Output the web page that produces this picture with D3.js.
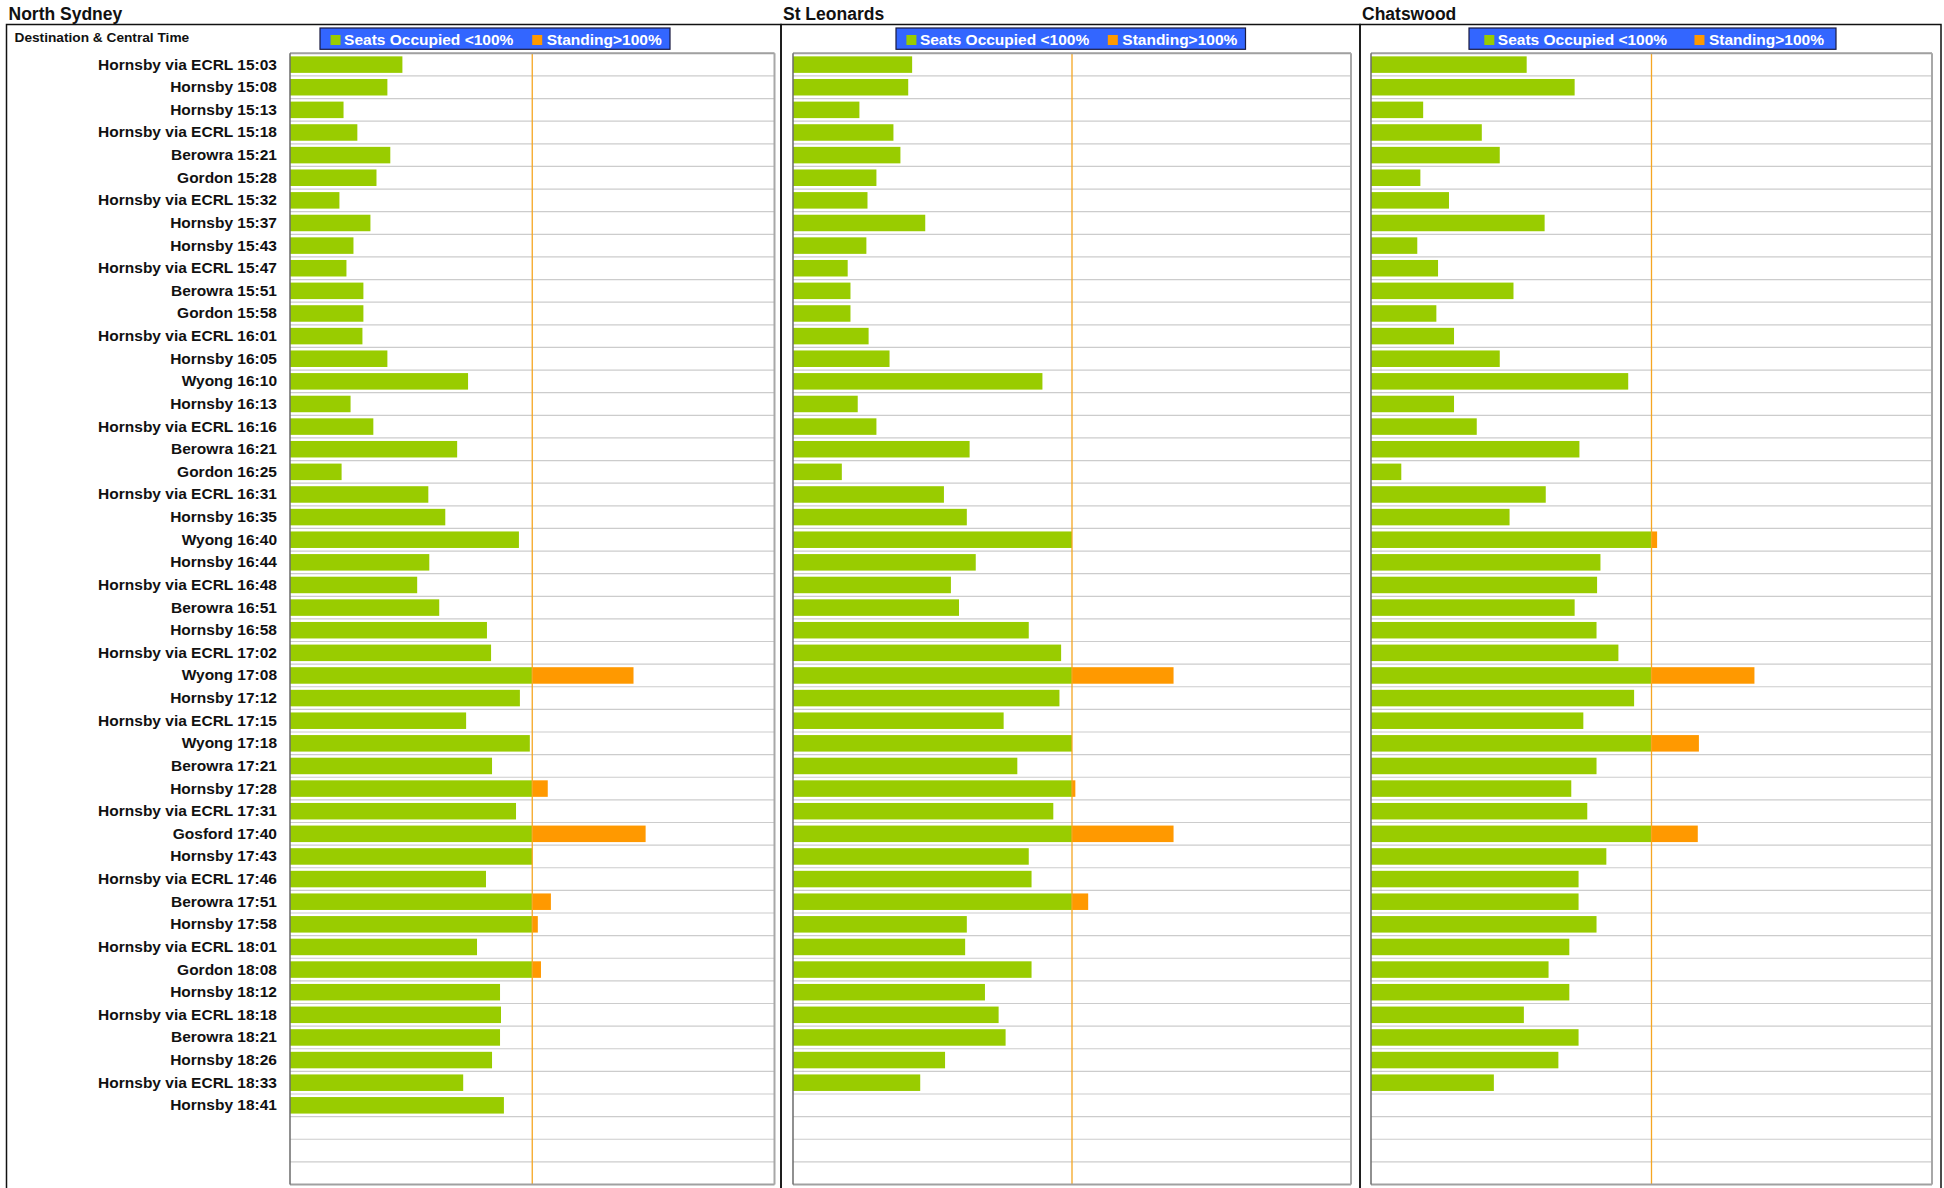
<!DOCTYPE html>
<html>
<head>
<meta charset="utf-8">
<script src="https://cdn.jsdelivr.net/npm/d3@7"></script>
<style>
  body { margin: 0; background: #fff; }
  text { font-family: "Liberation Sans", Arial, Helvetica, sans-serif; }
</style>
</head>
<body>
<div id="chart"></div>
<script>
// trips, in departure order (Central time)
const trips = [
  "Hornsby via ECRL 15:03", "Hornsby 15:08", "Hornsby 15:13", "Hornsby via ECRL 15:18",
  "Berowra 15:21", "Gordon 15:28", "Hornsby via ECRL 15:32", "Hornsby 15:37",
  "Hornsby 15:43", "Hornsby via ECRL 15:47", "Berowra 15:51", "Gordon 15:58",
  "Hornsby via ECRL 16:01", "Hornsby 16:05", "Wyong 16:10", "Hornsby 16:13",
  "Hornsby via ECRL 16:16", "Berowra 16:21", "Gordon 16:25", "Hornsby via ECRL 16:31",
  "Hornsby 16:35", "Wyong 16:40", "Hornsby 16:44", "Hornsby via ECRL 16:48",
  "Berowra 16:51", "Hornsby 16:58", "Hornsby via ECRL 17:02", "Wyong 17:08",
  "Hornsby 17:12", "Hornsby via ECRL 17:15", "Wyong 17:18", "Berowra 17:21",
  "Hornsby 17:28", "Hornsby via ECRL 17:31", "Gosford 17:40", "Hornsby 17:43",
  "Hornsby via ECRL 17:46", "Berowra 17:51", "Hornsby 17:58", "Hornsby via ECRL 18:01",
  "Gordon 18:08", "Hornsby 18:12", "Hornsby via ECRL 18:18", "Berowra 18:21",
  "Hornsby 18:26", "Hornsby via ECRL 18:33", "Hornsby 18:41"
];

const stations = ["North Sydney", "St Leonards", "Chatswood"];

// load in % of seats, per trip
const northSydney = [
  46.4, 40.2, 22.1, 27.8, 41.4, 35.7, 20.4, 33.2, 26.2, 23.3,
  30.3, 30.3, 29.9, 40.2, 73.5, 25.0, 34.4, 69.0, 21.3, 57.1,
  64.1, 94.5, 57.5, 52.5, 61.6, 81.3, 83.0, 141.8, 94.9, 72.7,
  99.0, 83.4, 106.4, 93.3, 146.8, 100.0, 80.9, 107.7, 102.3, 77.2,
  103.6, 86.7, 87.1, 86.7, 83.4, 71.5, 88.3
];
const stLeonards = [
  42.7, 41.3, 23.8, 36.0, 38.5, 29.9, 26.7, 47.4, 26.3, 19.6,
  20.6, 20.6, 27.1, 34.6, 89.4, 23.2, 29.9, 63.3, 17.5, 54.1,
  62.3, 100.0, 65.5, 56.6, 59.5, 84.5, 96.1, 136.4, 95.5, 75.5,
  100.0, 80.4, 101.2, 93.3, 136.4, 84.5, 85.5, 105.8, 62.3, 61.7,
  85.5, 68.8, 73.7, 76.2, 54.5, 45.6
];
const chatswood = [
  55.5, 72.6, 18.6, 39.5, 45.9, 17.6, 27.8, 61.9, 16.5, 23.9,
  50.8, 23.3, 29.6, 45.9, 91.7, 29.6, 37.7, 74.3, 10.8, 62.3,
  49.4, 102.0, 81.8, 80.6, 72.6, 80.4, 88.2, 136.7, 93.8, 75.7,
  116.9, 80.4, 71.4, 77.1, 116.5, 83.9, 74.0, 74.0, 80.4, 70.7,
  63.3, 70.7, 54.5, 74.0, 66.8, 43.8
];

const legendKeys = ["Seats Occupied <100%", "Standing>100%"];
const xDomain = [0, 200];
const capacity = 100;
const rowCount = 50;

const series = [northSydney, stLeonards, chatswood];

const width = 1944, height = 1188;
const plotTop = 53.3, plotBottom = 1184.5;
const green = "#99cc00", orange = "#ff9900";

// per panel: outer box, plot area, legend box (x extents)
const layout = [
  {box: [6.5, 781], plot: [290, 774.5], legend: [320, 670]},
  {box: [781, 1360], plot: [793, 1351], legend: [896, 1245.5]},
  {box: [1360, 1941], plot: [1371, 1932], legend: [1469, 1836]}
];

const svg = d3.select("#chart")
  .append("svg")
    .attr("width", width)
    .attr("height", height);

const y = d3.scaleBand()
  .domain(d3.range(rowCount))
  .range([plotTop, plotBottom])
  .paddingInner(0.27)
  .paddingOuter(0.135);

stations.forEach((station, p) => {
  const L = layout[p];
  const g = svg.append("g");

  g.append("rect")
    .attr("x", L.box[0])
    .attr("y", 24.5)
    .attr("width", L.box[1] - L.box[0])
    .attr("height", height)
    .attr("fill", "none")
    .attr("stroke", "#111")
    .attr("stroke-width", 1.5);

  g.append("text")
    .attr("x", L.box[0] + 2)
    .attr("y", 20)
    .text(station)
    .style("font-weight", "bold")
    .style("font-size", "17.5px")
    .style("fill", "#111");

  const x = d3.scaleLinear().domain(xDomain).range(L.plot);

  // row separators
  g.selectAll(".grid")
    .data(d3.range(rowCount + 1))
    .join("line")
      .attr("x1", L.plot[0])
      .attr("x2", L.plot[1])
      .attr("y1", i => plotTop + i * y.step())
      .attr("y2", i => plotTop + i * y.step())
      .attr("stroke", "#cccccc")
      .attr("stroke-width", 1.2);

  const rows = series[p].map((v, i) => ({
    i: i,
    seats: Math.min(v, capacity),
    standing: Math.max(v - capacity, 0)
  }));

  g.selectAll(".seat")
    .data(rows)
    .join("rect")
      .attr("x", x(0))
      .attr("y", d => y(d.i))
      .attr("width", d => x(d.seats) - x(0))
      .attr("height", y.bandwidth())
      .attr("fill", green);

  g.selectAll(".stand")
    .data(rows.filter(d => d.standing > 0))
    .join("rect")
      .attr("x", x(capacity))
      .attr("y", d => y(d.i))
      .attr("width", d => x(capacity + d.standing) - x(capacity))
      .attr("height", y.bandwidth())
      .attr("fill", orange);

  // 100% line
  g.append("line")
    .attr("x1", x(capacity)).attr("x2", x(capacity))
    .attr("y1", plotTop).attr("y2", plotBottom)
    .attr("stroke", "#f5a623")
    .attr("stroke-width", 1.3);

  // plot frame
  g.append("line")
    .attr("x1", L.plot[0]).attr("x2", L.plot[1])
    .attr("y1", plotTop).attr("y2", plotTop)
    .attr("stroke", "#a0a0a0").attr("stroke-width", 2);
  g.append("line")
    .attr("x1", L.plot[0]).attr("x2", L.plot[1])
    .attr("y1", plotBottom).attr("y2", plotBottom)
    .attr("stroke", "#a0a0a0").attr("stroke-width", 2);
  g.append("line")
    .attr("x1", L.plot[1]).attr("x2", L.plot[1])
    .attr("y1", plotTop).attr("y2", plotBottom)
    .attr("stroke", "#a8a8a8").attr("stroke-width", 2);
  g.append("line")
    .attr("x1", L.plot[0]).attr("x2", L.plot[0])
    .attr("y1", plotTop).attr("y2", plotBottom)
    .attr("stroke", "#6b6b6b").attr("stroke-width", 1.5);

  if (p === 0) {
    g.append("text")
      .attr("x", 14.5)
      .attr("y", 42)
      .text("Destination & Central Time")
      .style("font-weight", "bold")
      .style("font-size", "13.7px")
      .style("fill", "#111");

    const axis = g.append("g")
      .attr("transform", `translate(${L.plot[0]},0)`)
      .call(d3.axisLeft(y).tickSize(0).tickPadding(13).tickFormat(i => trips[i] || ""));
    axis.select(".domain").remove();
    axis.selectAll("text")
      .style("font-family", "'Liberation Sans', Arial, sans-serif")
      .style("font-weight", "bold")
      .style("font-size", "15.5px")
      .style("fill", "#111");
  }

  // legend
  const lg = g.append("g");
  const lx0 = L.legend[0], lx1 = L.legend[1];
  lg.append("rect")
    .attr("x", lx0).attr("y", 28)
    .attr("width", lx1 - lx0).attr("height", 21.3)
    .attr("fill", "#3366ff")
    .attr("stroke", "#1a1a40")
    .attr("stroke-width", 1.2);

  const texts = legendKeys.map(k => lg.append("text")
    .attr("y", 45.3)
    .text(k)
    .style("font-weight", "bold")
    .style("font-size", "15.5px")
    .style("fill", "#fff"));
  const tw = texts.map(t => t.node().getComputedTextLength());
  const sq = 10;
  const content = sq + 3.5 + tw[0] + sq + 4.5 + tw[1];
  const spare = (lx1 - lx0) - content;
  let cx = lx0 + spare * 0.28;
  [green, orange].forEach((c, k) => {
    lg.append("rect")
      .attr("x", cx).attr("y", 35)
      .attr("width", sq).attr("height", sq)
      .attr("fill", c);
    cx += sq + (k === 0 ? 3.5 : 4.5);
    texts[k].attr("x", cx);
    cx += tw[k] + spare * 0.5;
  });
});
</script>
</body>
</html>
